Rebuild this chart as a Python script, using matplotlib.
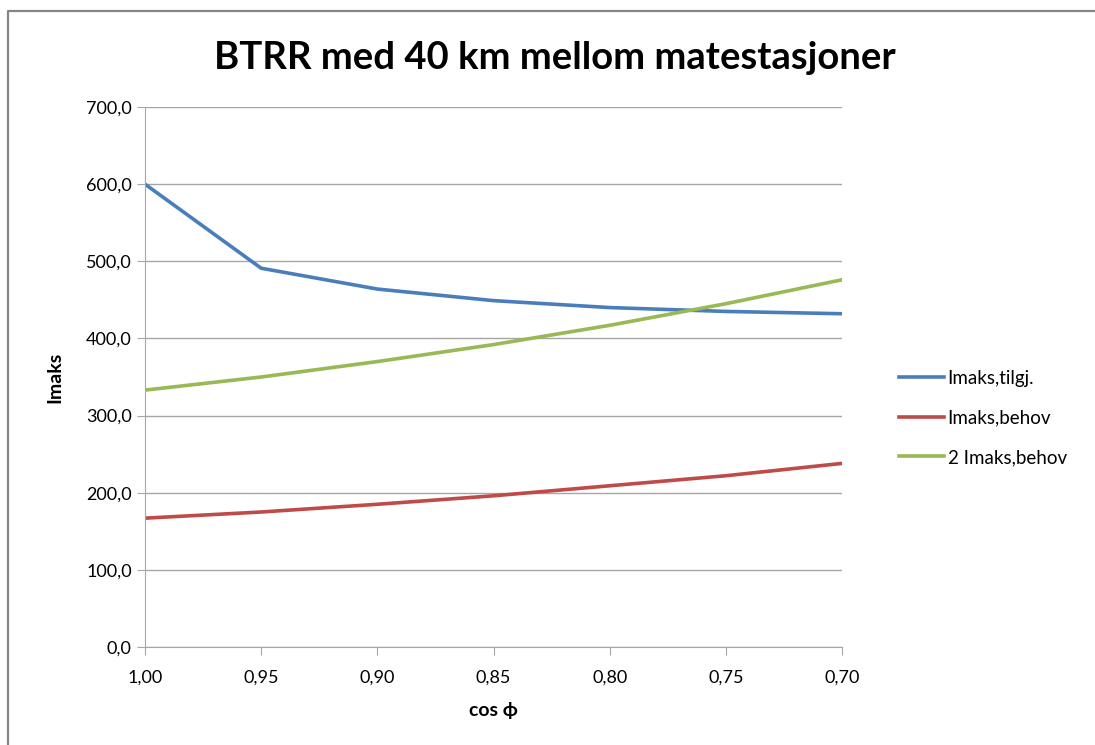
import matplotlib
matplotlib.use("Agg")
import matplotlib.pyplot as plt
from matplotlib.lines import Line2D

# data
cos_phi = ["1,00", "0,95", "0,90", "0,85", "0,80", "0,75", "0,70"]
imaks_tilgj = [600, 491, 464, 449, 440, 435, 432]
imaks_behov = [167, 175, 185, 196, 209, 222, 238]
imaks_behov_2 = [333, 350, 370, 392, 417, 445, 476]
y_ticks = [0, 100, 200, 300, 400, 500, 600, 700]

plt.rcParams['font.family'] = ['Lato', 'DejaVu Sans']

W, H = 1095, 745
fig = plt.figure(figsize=(W / 100, H / 100), dpi=100)
# chart frame, only left and top edges are visible
fx, fy = 7.5 / W, 1 - 11 / H
fig.lines.append(Line2D([fx, fx, 1.0], [0.0, fy, fy], transform=fig.transFigure,
                        color='#868686', linewidth=1.6))

ax = fig.add_axes([145 / W, 1 - 647 / H, 697 / W, 540 / H])
x = list(range(len(cos_phi)))
ax.plot(x, imaks_tilgj, color='#4a7ebb', lw=2.6, label='Imaks,tilgj.')
ax.plot(x, imaks_behov, color='#be4b48', lw=2.6, label='Imaks,behov')
ax.plot(x, imaks_behov_2, color='#98b954', lw=2.6, label='2 Imaks,behov')

ax.set_xlim(0, len(cos_phi) - 1)
ax.set_ylim(0, 700)
ax.set_xticks(x)
ax.set_xticklabels(cos_phi)
ax.set_yticks(y_ticks)
ax.set_yticklabels([f"{v},0" for v in y_ticks])
ax.grid(axis='y', color='#a6a6a6', lw=1)
ax.set_axisbelow(True)
for side in ['top', 'right']:
    ax.spines[side].set_visible(False)
for side in ['left', 'bottom']:
    ax.spines[side].set_color('#a6a6a6')
ax.tick_params(axis='both', colors='#a6a6a6', labelcolor='black', labelsize=13, length=6)
ax.tick_params(axis='x', pad=10)

ax.set_xlabel('cos ϕ', fontsize=14, fontweight='bold', labelpad=12)
ax.set_ylabel('Imaks', fontsize=14, fontweight='bold', labelpad=16)
fig.text(555 / W, 1 - 58 / H, 'BTRR med 40 km mellom matestasjoner', ha='center', va='center',
         fontsize=27.5, fontweight='bold')

fig.legend(loc='center left', bbox_to_anchor=(882 / W, 1 - 418 / H), frameon=False,
           fontsize=13.5, handlelength=2.4, handletextpad=0.2, labelspacing=1.2)

fig.savefig('out.png', dpi=100)
